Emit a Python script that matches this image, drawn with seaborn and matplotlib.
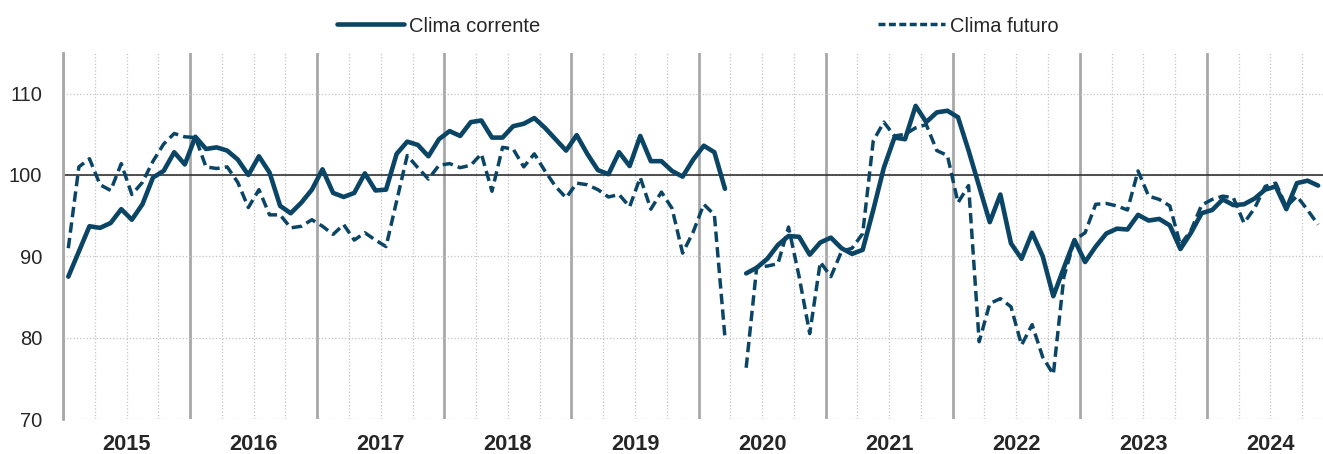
import numpy as np
import pandas as pd
import matplotlib.pyplot as plt
import seaborn as sns
from matplotlib.lines import Line2D
from matplotlib.ticker import FixedLocator, FuncFormatter

# monthly values, Jan 2015 -> Nov 2024 (Apr 2020 missing)
anni = list(range(2015, 2025))

clima_corrente = [
    87.5, 90.6, 93.7, 93.5, 94.1, 95.8, 94.5, 96.4, 99.7, 100.5, 102.8, 101.3,
    104.7, 103.2, 103.4, 103.0, 101.9, 100.0, 102.3, 100.3, 96.2, 95.3, 96.6, 98.2,
    100.7, 97.8, 97.3, 97.8, 100.2, 98.1, 98.2, 102.6, 104.1, 103.7, 102.3, 104.4,
    105.4, 104.8, 106.5, 106.7, 104.6, 104.6, 106.0, 106.3, 107.0, 105.8, 104.4, 103.0,
    104.9, 102.6, 100.6, 100.1, 102.8, 101.1, 104.8, 101.7, 101.7, 100.5, 99.8, 101.9,
    103.6, 102.8, 98.3, np.nan, 87.9, 88.6, 89.7, 91.4, 92.5, 92.4, 90.2, 91.7,
    92.3, 91.0, 90.3, 90.8, 95.7, 100.9, 104.6, 104.4, 108.5, 106.5, 107.7, 107.9,
    107.1, 103.0, 98.6, 94.2, 97.6, 91.6, 89.7, 92.9, 90.0, 85.1, 88.6, 92.0,
    89.3, 91.2, 92.8, 93.4, 93.3, 95.1, 94.4, 94.6, 93.8, 90.9, 92.9, 95.3,
    95.7, 97.0, 96.3, 96.4, 97.1, 98.2, 98.6, 95.8, 99.0, 99.3, 98.7,
]

clima_futuro = [
    91.0, 101.0, 102.0, 98.8, 98.1, 101.4, 97.6, 99.1, 101.7, 103.8, 105.1, 104.7,
    104.6, 101.0, 100.8, 101.0, 99.1, 96.0, 98.2, 95.1, 95.1, 93.5, 93.7, 94.5,
    93.7, 92.7, 93.9, 92.0, 92.9, 92.0, 91.2, 96.8, 102.4, 100.9, 99.5, 101.2,
    101.4, 100.9, 101.2, 102.6, 98.0, 103.4, 103.2, 101.0, 102.6, 100.5, 98.6, 97.2,
    99.0, 98.8, 98.2, 97.3, 97.6, 96.1, 99.7, 95.8, 97.9, 95.9, 90.4, 93.0,
    96.4, 95.1, 80.0, np.nan, 76.3, 88.7, 88.8, 89.1, 93.6, 87.5, 80.5, 89.3,
    87.5, 90.6, 91.0, 92.8, 104.2, 106.5, 104.8, 105.0, 105.8, 106.2, 103.0, 102.4,
    96.6, 98.7, 79.5, 84.2, 84.8, 83.8, 79.1, 81.6, 77.6, 75.5, 87.5, 92.0,
    92.9, 96.4, 96.5, 96.2, 95.7, 100.5, 97.4, 97.0, 96.2, 91.4, 93.2, 96.3,
    97.0, 97.4, 97.2, 94.1, 95.9, 98.6, 99.0, 96.1, 97.4, 95.7, 93.9,
]

serie = ["Clima corrente", "Clima futuro"]
y_ticks = [70, 80, 90, 100, 110]

navy = "#0b4566"

# long table; 'tratto' splits the line at the missing month
n = len(clima_corrente)
mesi = np.arange(n)
frames = []
for nome, valori in zip(serie, [clima_corrente, clima_futuro]):
    frames.append(pd.DataFrame({
        "x": mesi + 0.5,
        "valore": valori,
        "serie": nome,
        "tratto": np.where(np.isnan(valori).cumsum() > 0, "b", "a"),
    }))
df = pd.concat(frames).dropna()

sns.set_style("white")
plt.rcParams["font.family"] = ["Liberation Sans", "DejaVu Sans"]

W, H = 1323, 454
fig = plt.figure(figsize=(W / 100, H / 100), dpi=100)
ax = fig.add_axes([63 / W, 1 - 419 / H, (1334 - 63) / W, (419 - 53) / H])

sns.lineplot(data=df[df.serie == serie[0]], x="x", y="valore", units="tratto",
             estimator=None, color=navy, lw=3.3, legend=False, ax=ax,
             solid_joinstyle="round", zorder=4)
sns.lineplot(data=df[df.serie == serie[1]], x="x", y="valore", units="tratto",
             estimator=None, color=navy, lw=2.5, legend=False, ax=ax,
             linestyle=(0, (3.0, 1.5)), zorder=3)

ax.set_xlim(0, 12 * len(anni))
ax.set_ylim(70, 115)

# year boundaries (major) + quarters (minor), year labels on mid-year minor ticks
ax.xaxis.set_major_locator(FixedLocator([12 * i for i in range(len(anni) + 1)]))
ax.xaxis.set_major_formatter(FuncFormatter(lambda v, p: ""))
ax.xaxis.set_minor_locator(FixedLocator([12 * i + q for i in range(len(anni)) for q in (3, 6, 9)]))
ax.xaxis.set_minor_formatter(FuncFormatter(
    lambda v, p: str(anni[int(v) // 12]) if int(round(v)) % 12 == 6 else ""))
ax.set_yticks(y_ticks)

ax.grid(which="major", axis="x", color="#a8a8a8", lw=2.0, ls="-")
ax.grid(which="minor", axis="x", color="#c4c4c4", lw=0.9, ls=":")
ax.grid(which="major", axis="y", color="#c4c4c4", lw=0.9, ls=":")
ax.axhline(100, color="#222222", lw=1.1, zorder=2)

ax.tick_params(axis="both", which="both", length=0)
ax.tick_params(axis="y", labelsize=14.5, pad=15, labelcolor="#262626")
ax.tick_params(axis="x", which="minor", labelsize=15.7, pad=11)
for lab in ax.get_xticklabels(minor=True):
    lab.set_fontweight("bold")

for s in ["top", "right", "bottom"]:
    ax.spines[s].set_visible(False)
ax.spines["left"].set_color("#a8a8a8")
ax.spines["left"].set_linewidth(2.0)

ax.set_xlabel("")
ax.set_ylabel("")

handles = [Line2D([], [], color=navy, lw=3.3),
           Line2D([], [], color=navy, lw=2.5, ls=(0, (2.0, 1.0)))]
fig.legend(handles, serie, loc="center", bbox_to_anchor=(698 / W, 1 - 26 / H),
           ncol=2, frameon=False, fontsize=14.5, handlelength=3.3,
           handletextpad=0.25, columnspacing=16.8)

fig.savefig("out.png", dpi=100)
